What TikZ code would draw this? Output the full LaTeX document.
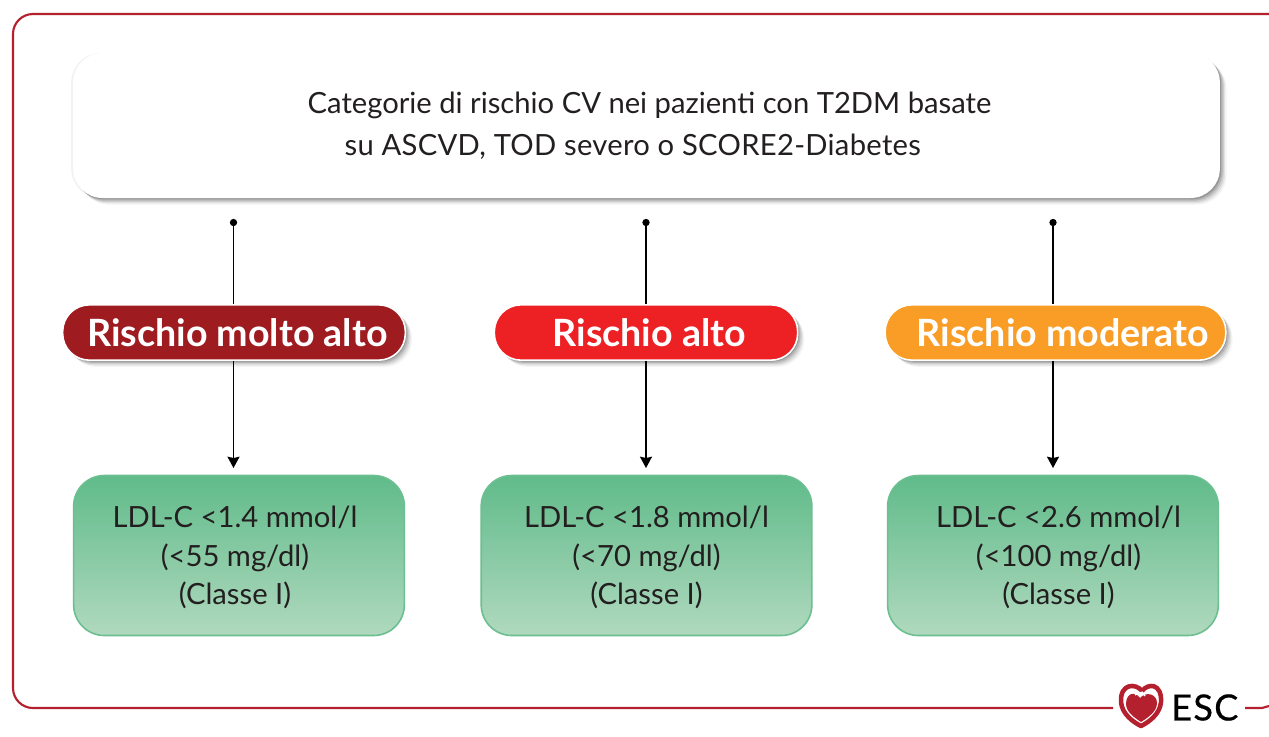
\documentclass[tikz,border=0pt]{standalone}
\usepackage{fontspec}
\setmainfont{Lato}
\newfontfamily\logofont[FakeBold=0.6]{Lato}
\usetikzlibrary{shadows, arrows.meta}
\definecolor{framered}{HTML}{B5202E}
\definecolor{inktext}{HTML}{231F20}
\definecolor{riskvery}{HTML}{9E1B20}
\definecolor{riskhigh}{HTML}{ED2024}
\definecolor{riskmod}{HTML}{F99D27}
\definecolor{goaledge}{HTML}{6CBF90}
\definecolor{goaltop}{HTML}{60BB8A}
\definecolor{goalbottom}{HTML}{B0D9BE}
\tikzstyle{softshadow} = [drop shadow={shadow xshift=5pt, shadow yshift=-5pt, opacity=0.04, fill=black}, drop shadow={shadow xshift=4pt, shadow yshift=-4pt, opacity=0.07, fill=black}, drop shadow={shadow xshift=3pt, shadow yshift=-3pt, opacity=0.09, fill=black}, drop shadow={shadow xshift=2pt, shadow yshift=-2pt, opacity=0.12, fill=black}, drop shadow={shadow xshift=1pt, shadow yshift=-1pt, opacity=0.16, fill=black}]
\tikzstyle{header} = [rectangle, rounded corners=22pt, minimum width=860pt, minimum height=108.75pt, fill=white, text=inktext, align=left, font=\fontsize{21.9}{31.5}\selectfont, drop shadow={shadow xshift=-1.5pt, shadow yshift=0pt, opacity=0.05, fill=black}, softshadow]
\tikzstyle{risk} = [rectangle, rounded corners=20pt, minimum height=41.5pt, draw=white, line width=1.2pt, text=white, font=\fontsize{28.2}{30}\selectfont\bfseries, softshadow]
\tikzstyle{goal} = [rectangle, rounded corners=23pt, minimum width=248pt, minimum height=120pt, draw=goaledge, line width=1.2pt, top color=goaltop, bottom color=goalbottom]
\tikzstyle{goaltext} = [text=inktext, align=center, font=\fontsize{21.9}{28.9}\selectfont]
\tikzstyle{tap} = [circle, fill=black, inner sep=0pt, minimum size=5.5pt]
\tikzstyle{line} = [line width=1.3pt, black]
\tikzstyle{arrow} = [line width=1.3pt, black, -{Stealth[length=8.5pt, width=9pt, inset=1pt]}, shorten >=5pt]
\tikzstyle{frame} = [line width=1.6pt, framered]
\begin{document}
\begin{tikzpicture}[x=0.75pt, y=-0.75pt, node distance=167.25pt]
	\useasboundingbox (0,0) rectangle (1269,736);
	\fill [white] (0,0) rectangle (1269,736);

	\draw [frame, rounded corners=15pt] (1269,14) -- (13,14) -- (13,708) -- (1113,708);
	\draw [frame] (1245,708) -- (1262,708) -- (1269,706);

	\node (H1) [header] at (646.5,125.5) {\hspace*{4.5pt}Categorie di rischio CV nei pazienti con T2DM basate\\\hspace*{32.25pt}{\addfontfeature{LetterSpace=1}su ASCVD, TOD severo o SCORE2-Diabetes}};

	\node (D1) [tap] at (233.5,222.5) {};
	\node (D2) [tap] at (646,222.5) {};
	\node (D3) [tap] at (1053,222.5) {};

	\node (P1) [risk, minimum width=257pt, fill=riskvery] at (234,332.5) {\hspace*{5pt}Rischio molto alto};
	\node (P2) [risk, minimum width=227.5pt, fill=riskhigh] at (646,332.5) {\hspace*{5pt}Rischio alto};
	\node (P3) [risk, minimum width=255.5pt, fill=riskmod] at (1055.5,332.5) {\hspace*{11pt}Rischio moderato};

	\node (G1) [goal, below of = P1, xshift = 3.75pt] {};
	\node (G2) [goal, below of = P2, xshift = 0.4pt] {};
	\node (G3) [goal, below of = P3, xshift = -1.9pt] {};

	\node (T1) [goaltext] at (235,557.5) {LDL-C <1.4 mmol/l\\(<55 mg/dl)\\(Classe I)};
	\node (T2) [goaltext] at (646.5,557.5) {LDL-C <1.8 mmol/l\\(<70 mg/dl)\\(Classe I)};
	\node (T3) [goaltext] at (1058.5,557.5) {LDL-C <2.6 mmol/l\\(<100 mg/dl)\\(Classe I)};

	\draw [line] (D1) -- (D1 |- P1.north);
	\draw [line] (D2) -- (D2 |- P2.north);
	\draw [line] (D3) -- (D3 |- P3.north);
	\draw [arrow] (D1 |- P1.south) -- (D1 |- G1.north);
	\draw [arrow] (D2 |- P2.south) -- (D2 |- G2.north);
	\draw [arrow] (D3 |- P3.south) -- (D3 |- G3.north);

	% logo
	\draw [framered, line width=3.4pt, line join=round] (1142,691) .. controls (1136,683) and (1120,683) .. (1121,702) .. controls (1122,714) and (1133,722) .. (1141,726) .. controls (1149,722) and (1160,714) .. (1161,702) .. controls (1162,683) and (1148,683) .. (1142,691);
	\fill [framered] (1140,698) .. controls (1134,690) and (1126,694) .. (1126,704) .. controls (1126,712) and (1135,718) .. (1141,722) .. controls (1147,718) and (1157,712) .. (1157,703) .. controls (1157,694) and (1146,691) .. (1140,698);
	\draw [white, line width=1pt] (1135,695) .. controls (1138,692) and (1143,691) .. (1145,696);
	\node (L1) [text=black, font=\logofont\fontsize{27}{30}\selectfont, anchor=west, inner sep=0pt] at (1171,707.5) {E\kern1ptS\kern1ptC};
\end{tikzpicture}
\end{document}
